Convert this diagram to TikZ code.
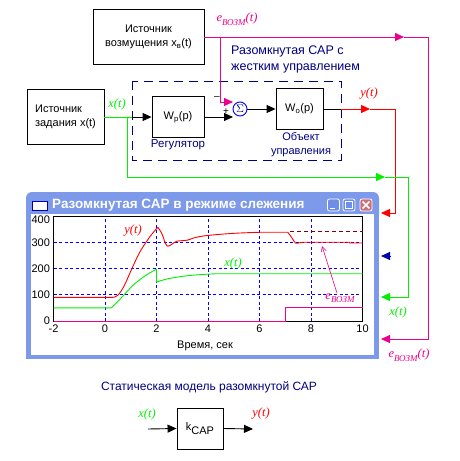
\documentclass[tikz,border=0pt]{standalone}
\usepackage{fontspec}
\setmainfont{Liberation Sans}
\newfontfamily\sigfont{Liberation Serif}
\usetikzlibrary{arrows.meta}
\definecolor{navy}{RGB}{0,0,128}
\definecolor{sgreen}{RGB}{0,240,0}
\definecolor{winframe}{RGB}{124,153,234}
\definecolor{wintitle}{RGB}{110,143,232}
\definecolor{closered}{RGB}{204,112,120}
\definecolor{darkred}{RGB}{128,0,0}
\newcommand{\sgl}[1]{{\sigfont\itshape #1}}
\newcommand{\evozm}{\sgl{e}\raisebox{-3.5pt}{\sgl{\fontsize{9}{9}\selectfont ВОЗМ}}}

\begin{document}
\begin{tikzpicture}[x=1pt, y=-1pt, >={Triangle[length=9pt,width=8pt]},
  every node/.style={font=\fontsize{11}{13.5}\selectfont},
  block/.style={draw, line width=0.9pt, align=center, inner sep=0pt},
  lbl/.style={font=\fontsize{12.5}{12.5}\selectfont\sigfont\itshape, inner sep=0pt},
  note/.style={text=navy, align=left, inner sep=0pt},
  wire/.style={line width=0.9pt},
  grid/.style={blue, line width=0.7pt, dash pattern=on 3pt off 2.5pt},
  btn/.style={draw=white, line width=0.8pt, rounded corners=2pt, minimum size=12pt, inner sep=0pt}]
\useasboundingbox[fill=white] (0,0) rectangle (459,461);

% blocks of the open loop
\node[block, minimum width=111pt, minimum height=55pt] (dist) at (148.5,37) {Источник\\возмущения x\textsubscript{в}(t)};
\node[block, align=left, minimum width=77pt, minimum height=55pt] (src) at (65.5,117) {Источник\\задания x(t)};
\node[block, minimum width=52pt, minimum height=41pt] (wp) at (178,117) {W\textsubscript{p}(p)};
\node[block, minimum width=47pt, minimum height=41pt] (wo) at (299.5,109) {W\textsubscript{o}(p)};
\node[draw=blue, circle, line width=0.9pt, minimum size=14pt, inner sep=0pt, text=navy] (sum) at (240,109) {$\Sigma$};
\draw[navy, line width=1pt, dash pattern=on 9pt off 6pt] (132,81) rectangle (341,160);
\node[note, anchor=north west, font=\fontsize{12.5}{16}\selectfont] (open) at (231,46) {Разомкнутая САР с\\жестким управлением};
\node[note, font=\fontsize{11.5}{12}\selectfont] (wplab) at (178,145) {Регулятор};
\node[note, align=center, font=\fontsize{11}{14}\selectfont] (wolab) at (301,144.5) {Объект\\управления};
\node[inner sep=0pt, font=\fontsize{10}{10}\selectfont] (minus) at (217,98) {--};
\node[inner sep=0pt, font=\fontsize{10}{10}\selectfont] (plus) at (226,112) {+};

% signal lines
\coordinate (xj) at (127,117);
\coordinate (xe) at (132,117);
\coordinate (sump) at (233,117);
\coordinate (sumn) at (233,102);
\coordinate (ej) at (220,37);
\coordinate (ea) at (404,37);
\coordinate (er) at (428,37);
\coordinate (eo) at (381,339);
\coordinate (yb) at (341,109);
\coordinate (ya) at (370,109);
\coordinate (yr) at (395,109);
\coordinate (yo) at (381,213);
\coordinate (xa) at (385,177);
\coordinate (xr) at (408,177);
\coordinate (xo) at (381,297);
\coordinate (ba) at (391,256);
\coordinate (bo) at (381,256);
\draw[wire, sgreen] (src.east) -- (xe);
\draw[wire, ->] (xe) -- (wp.west);
\draw[wire, ->] (wp.east) -- (sump);
\draw[wire, ->] (sum.east) -- (wo.west);
\draw[wire] (wo.east) -- (yb);
\draw[wire, red, ->] (yb) -- (ya);
\draw[wire, red, ->] (ya) -- (yr) |- (yo);
\draw[wire, magenta, ->] (dist.east) -- (ea);
\draw[wire, magenta, ->] (ea) -- (er) |- (eo);
\draw[wire, magenta, ->] (ej) |- (sumn);
\draw[wire, sgreen, ->] (xj) |- (xa);
\draw[wire, sgreen, ->] (xa) -- (xr) |- (xo);
\draw[wire, blue!70!black, ->] (ba) -- (bo);
\node[lbl, sgreen] (xlab) at (117,104) {x(t)};
\node[lbl, magenta] (elab) at (237,19) {\evozm\sgl{(t)}};
\node[lbl, red] (ylab) at (369,94) {y(t)};
\node[lbl, sgreen] (xlab2) at (398,312) {x(t)};
\node[lbl, magenta] (elab2) at (409,355) {\evozm\sgl{(t)}};

% scope window
\fill[winframe, rounded corners=6pt] (26,192) rectangle (379,222);
\fill[winframe] (26,206) rectangle (379,359);
\fill[white] (31,214) rectangle (374,355);
\draw[blue!70!black, fill=white, line width=0.8pt] (32,201) rectangle (47,210);
\node[font=\bfseries\fontsize{13.5}{13.5}\selectfont, text=white, anchor=west, inner sep=0pt] (wtitle) at (52,205.5) {Разомкнутая САР в режиме слежения};
\node[btn, fill=wintitle] (bmin) at (333.5,205) {};
\node[btn, fill=wintitle] (bmax) at (349,205) {};
\node[btn, fill=closered] (bcls) at (366,205) {};
\draw[white, line width=1.6pt] ([shift={(3pt,3pt)}]bmin.south west) -- ([shift={(-5pt,3pt)}]bmin.south east);
\draw[white, line width=1.2pt] ([shift={(3pt,3pt)}]bmax.south west) rectangle ([shift={(-3pt,-3pt)}]bmax.north east);
\draw[white, line width=1.6pt] ([shift={(3pt,3pt)}]bcls.south west) -- ([shift={(-3pt,-3pt)}]bcls.north east);
\draw[white, line width=1.6pt] ([shift={(3pt,-3pt)}]bcls.north west) -- ([shift={(-3pt,3pt)}]bcls.south east);

\begin{scope}[shift={(105,321)}, x=25.75pt, y=0.2625pt]
  \foreach \t in {0,2,...,8} \draw[grid] (\t,0) -- (\t,400);
  \foreach \v in {100,200,300} \draw[grid] (-2,\v) -- (10,\v);
  \draw[line width=0.8pt] (-2,0) rectangle (10,400);
  \foreach \t in {-2,0,...,10} \node[below, font=\fontsize{11}{11}\selectfont] (tx\t) at (\t,0) {\t};
  \foreach \v in {0,100,200,300} \node[left, font=\fontsize{11}{11}\selectfont] (ty\v) at (-2,\v) {\v};
  \node[left, font=\fontsize{11}{11}\selectfont] (ty400) at (-2,385) {400};
  \draw[darkred, line width=0.8pt, dash pattern=on 4pt off 3pt] (7.2,340) -- (10,340);
  \draw[magenta, line width=1pt] (-2,0) -- (7,0) -- (7,50) -- (10,50);
  \draw[sgreen, line width=0.9pt] (-2,50) -- (0.25,50)
    plot[smooth, tension=0.6] coordinates {(0.25,50) (0.6,85) (1.1,137) (1.6,175) (2,197)}
    -- (2,148)
    plot[smooth, tension=0.6] coordinates {(2,148) (2.4,160) (3,170) (3.6,176) (4.3,180)}
    -- (10,180);
  \draw[red, line width=0.9pt] (-2,90) -- (0.3,90)
    plot[smooth, tension=0.6] coordinates {(0.3,90) (0.5,98) (0.75,135) (1,190) (1.35,262) (1.75,322) (2.05,357)}
    plot[smooth, tension=0.6] coordinates {(2.05,357) (2.2,335) (2.35,295) (2.45,285) (2.6,293) (2.8,304) (3.2,308) (3.5,318) (4,326) (5,334) (6,338)}
    -- (7.1,338)
    plot[smooth, tension=0.6] coordinates {(7.1,338) (7.25,318) (7.4,297) (7.55,298) (7.7,300)}
    -- (9.5,300) -- (9.5,297) -- (10,297);
\end{scope}
\node[lbl, red] (ycurve) at (133,231) {y(t)};
\node[lbl, sgreen] (xcurve) at (233,263) {x(t)};
\node[lbl, magenta] (ecurve) at (340,298) {\evozm};
\coordinate (etip) at (322,246);
\draw[magenta, line width=0.6pt, -{Straight Barb[length=5pt,width=5pt]}] ([xshift=-3pt]ecurve.north) -- (etip);
\node (tlab) at (205,346) {Время, сек};

% static model
\node[note, font=\fontsize{12}{12}\selectfont] (stat) at (209,387) {Статическая модель разомкнутой САР};
\node[block, minimum width=46pt, minimum height=41pt] (kcap) at (200,428.5) {k\raisebox{-4pt}{CAP}};
\coordinate (kin) at (148,429);
\coordinate (kout) at (253,429);
\draw[wire, ->] (kin) -- (kcap.west);
\draw[wire, ->] (kcap.east) -- (kout);
\node[lbl, sgreen] (kx) at (147,414) {x(t)};
\node[lbl, red] (ky) at (261,414) {y(t)};
\end{tikzpicture}
\end{document}
